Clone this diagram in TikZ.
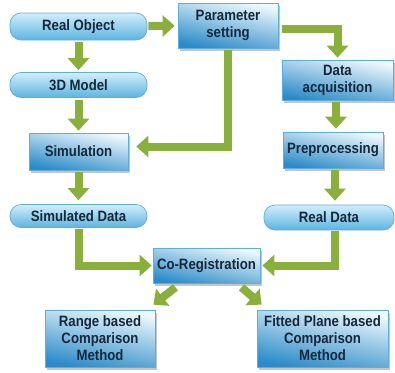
\documentclass[tikz,border=0pt]{standalone}
\usepackage{fontspec}
\setmainfont{Liberation Sans}[FakeStretch=0.88]
\usetikzlibrary{arrows.meta,shadows}

\definecolor{boxdark}{HTML}{2B8BC8}
\definecolor{boxlight}{HTML}{EEF9FD}
\definecolor{pilltop}{HTML}{D2EEFA}
\definecolor{pillbot}{HTML}{5CB4E0}
\definecolor{edgeblue}{HTML}{5DAEDC}
\definecolor{arrowgreen}{HTML}{8AB03C}
\definecolor{txt}{HTML}{16283C}

\tikzset{
	label font/.style={text=txt, font=\bfseries\fontsize{15}{17}\selectfont},
	box/.style={draw=edgeblue, line width=0.7pt, top color=boxlight, bottom color=boxdark, shading angle=-12,
		drop shadow={shadow xshift=1.5pt, shadow yshift=-2.5pt, fill=black!45},
		inner sep=0pt, align=center, label font},
	pill/.style={draw=edgeblue, line width=0.7pt, rounded corners=11pt, top color=pilltop, bottom color=pillbot,
		inner sep=0pt, align=center, label font},
	fat/.style={draw=arrowgreen, line width=8pt, -{Triangle[width=21pt,length=12pt]}}
}

\begin{document}
\begin{tikzpicture}[x=1pt, y=-1pt]
	\useasboundingbox (0,0) rectangle (395,372);
	
	% left column
	\node[pill, minimum width=137pt, minimum height=27pt] (realobj) at (78.5,26.5) {Real Object};
	\node[pill, minimum width=137pt, minimum height=25pt] (model) at (78.5,85) {3D Model};
	\node[box, minimum width=99pt, minimum height=37pt] (sim) at (78.5,151.5) {Simulation};
	\node[pill, minimum width=137pt, minimum height=23pt] (simdata) at (78.5,216) {Simulated Data};
	
	% right column
	\node[box, minimum width=100pt, minimum height=45pt] (param) at (228,25.5) {Parameter\\setting};
	\node[box, minimum width=111pt, minimum height=40pt] (dataacq) at (337.5,80) {Data\\acquisition};
	\node[box, minimum width=100pt, minimum height=36pt] (preproc) at (333,150) {Preprocessing};
	\node[pill, minimum width=130pt, minimum height=25pt] (realdata) at (329,217.5) {Real Data};
	
	% bottom
	\node[box, minimum width=107pt, minimum height=35pt] (coreg) at (206.5,265.5) {Co-Registration};
	\node[box, minimum width=110pt, minimum height=57pt] (range) at (100,338.5) {Range based\\Comparison\\Method};
	\node[box, minimum width=131pt, minimum height=57pt] (fitted) at (322.5,338.5) {Fitted Plane based\\Comparison\\Method};
	
	% arrows
	\draw[fat, shorten <=1pt, shorten >=3pt] (realobj) -- (param);
	\draw[fat, shorten <=2pt, shorten >=2pt] (realobj) -- (model);
	\draw[fat, shorten <=2pt, shorten >=2pt] (model) -- (sim);
	\draw[fat, shorten <=2pt, shorten >=4pt] (sim) -- (simdata);
	\draw[fat, shorten <=4pt, shorten >=2pt] ([yshift=-3pt]param.east) -| (dataacq);
	\draw[fat, shorten <=2pt, shorten >=8pt] (param) |- ([yshift=5pt]sim.east);
	\draw[fat, shorten <=2pt, shorten >=3pt] (dataacq.south -| preproc.north) ++(3pt,0) -- ([xshift=3pt]preproc.north);
	\draw[fat, shorten <=2pt, shorten >=4pt] ([xshift=2pt]preproc.south) -- ([xshift=2pt]preproc.south |- realdata.north);
	\draw[fat, shorten <=1pt, shorten >=1pt] (simdata) |- (coreg);
	\draw[fat, shorten <=1pt, shorten >=2pt] ([xshift=6pt]realdata.south) |- (coreg);
	\draw[fat] ([xshift=-31pt, yshift=-4pt]coreg.south) -- ([xshift=-2pt, yshift=5pt]range.north east);
	\draw[fat] ([xshift=35pt, yshift=-4pt]coreg.south) -- ([xshift=5pt, yshift=5pt]fitted.north west);
	
\end{tikzpicture}
\end{document}
